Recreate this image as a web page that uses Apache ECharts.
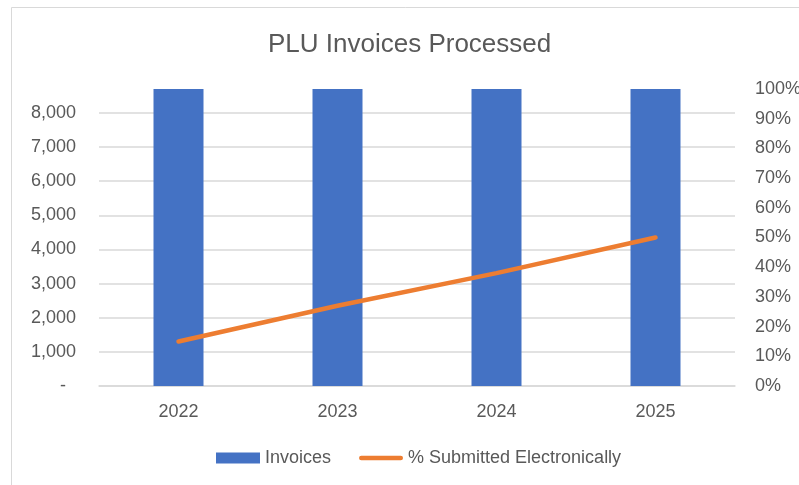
<!DOCTYPE html>
<html>
<head>
<meta charset="utf-8">
<script src="https://cdn.jsdelivr.net/npm/echarts@6/dist/echarts.min.js"></script>
<style>
html,body{margin:0;padding:0;background:#fff;}
#chart{width:799px;height:485px;}
</style>
</head>
<body>
<div id="chart"></div>
<script>
var categories = ['2022', '2023', '2024', '2025'];
var invoices = [8700, 8700, 8700, 8700];
var pctElectronic = [0.15, 0.27, 0.38, 0.50];
var titleText = 'PLU Invoices Processed';
var seriesNames = ['Invoices', '% Submitted Electronically'];

var FONT = '"Liberation Sans", Arial, sans-serif';
var TXT = '#595959';
var LINE_ICON = 'path://M0,0L0.01,0L0,0.01Z M0,11L0.01,11L0,10.99Z M2.5,3 L44.5,3 A2.5,2.5 0 0 1 44.5,8 L2.5,8 A2.5,2.5 0 0 1 2.5,3Z M47,0L47.01,0L47,0.01Z';

var chart = echarts.init(document.getElementById('chart'), null, {renderer: 'canvas'});
chart.setOption({
  animation: false,
  backgroundColor: '#fff',
  title: {
    text: titleText,
    left: 268,
    top: 32,
    padding: 0,
    textStyle: {fontFamily: FONT, fontSize: 26, fontWeight: 'normal', color: TXT}
  },
  graphic: [{
    type: 'rect',
    shape: {x: 11.5, y: 7.5, width: 900, height: 600},
    style: {fill: 'none', stroke: '#d9d9d9', lineWidth: 1},
    silent: true
  }],
  legend: {
    left: 211,
    top: 444,
    itemWidth: 44,
    itemHeight: 11,
    itemGap: 28,
    textStyle: {fontFamily: FONT, fontSize: 18, color: TXT},
    data: [
      {name: seriesNames[0], icon: 'rect'},
      {name: seriesNames[1], icon: LINE_ICON, itemStyle: {color: '#ED7D31', borderWidth: 0}}
    ]
  },
  grid: {left: 99, right: 64, top: 89, bottom: 99, containLabel: false, outerBoundsMode: 'none'},
  xAxis: {
    type: 'category',
    data: categories,
    axisLine: {show: true, lineStyle: {color: '#d9d9d9', width: 1.5}},
    axisTick: {show: false},
    axisLabel: {margin: 17, fontFamily: FONT, fontSize: 18, color: TXT}
  },
  yAxis: [{
    type: 'value',
    min: 0,
    max: 8700,
    interval: 1000,
    axisLine: {show: false},
    axisTick: {show: false},
    splitLine: {show: true, showMaxLine: false, lineStyle: {color: '#d9d9d9', width: 1.5}},
    axisLabel: {
      margin: 23,
      showMaxLabel: false,
      fontFamily: FONT, fontSize: 18, color: TXT,
      formatter: function (v) {
        if (v === 0) return '-  ';
        if (v % 1000 !== 0) return '';
        return v.toLocaleString('en-US');
      }
    }
  }, {
    type: 'value',
    min: 0,
    max: 1,
    interval: 0.1,
    axisLine: {show: false},
    axisTick: {show: false},
    splitLine: {show: false},
    axisLabel: {
      margin: 20,
      fontFamily: FONT, fontSize: 18, color: TXT,
      formatter: function (v) { return Math.round(v * 100) + '%'; }
    }
  }],
  series: [{
    name: seriesNames[0],
    type: 'bar',
    data: invoices,
    barWidth: 50,
    itemStyle: {color: '#4472C4'},
    yAxisIndex: 0
  }, {
    name: seriesNames[1],
    type: 'line',
    data: pctElectronic,
    yAxisIndex: 1,
    symbol: 'none',
    lineStyle: {color: '#ED7D31', width: 4.5, cap: 'round'},
    itemStyle: {color: '#ED7D31'}
  }]
});
</script>
</body>
</html>
